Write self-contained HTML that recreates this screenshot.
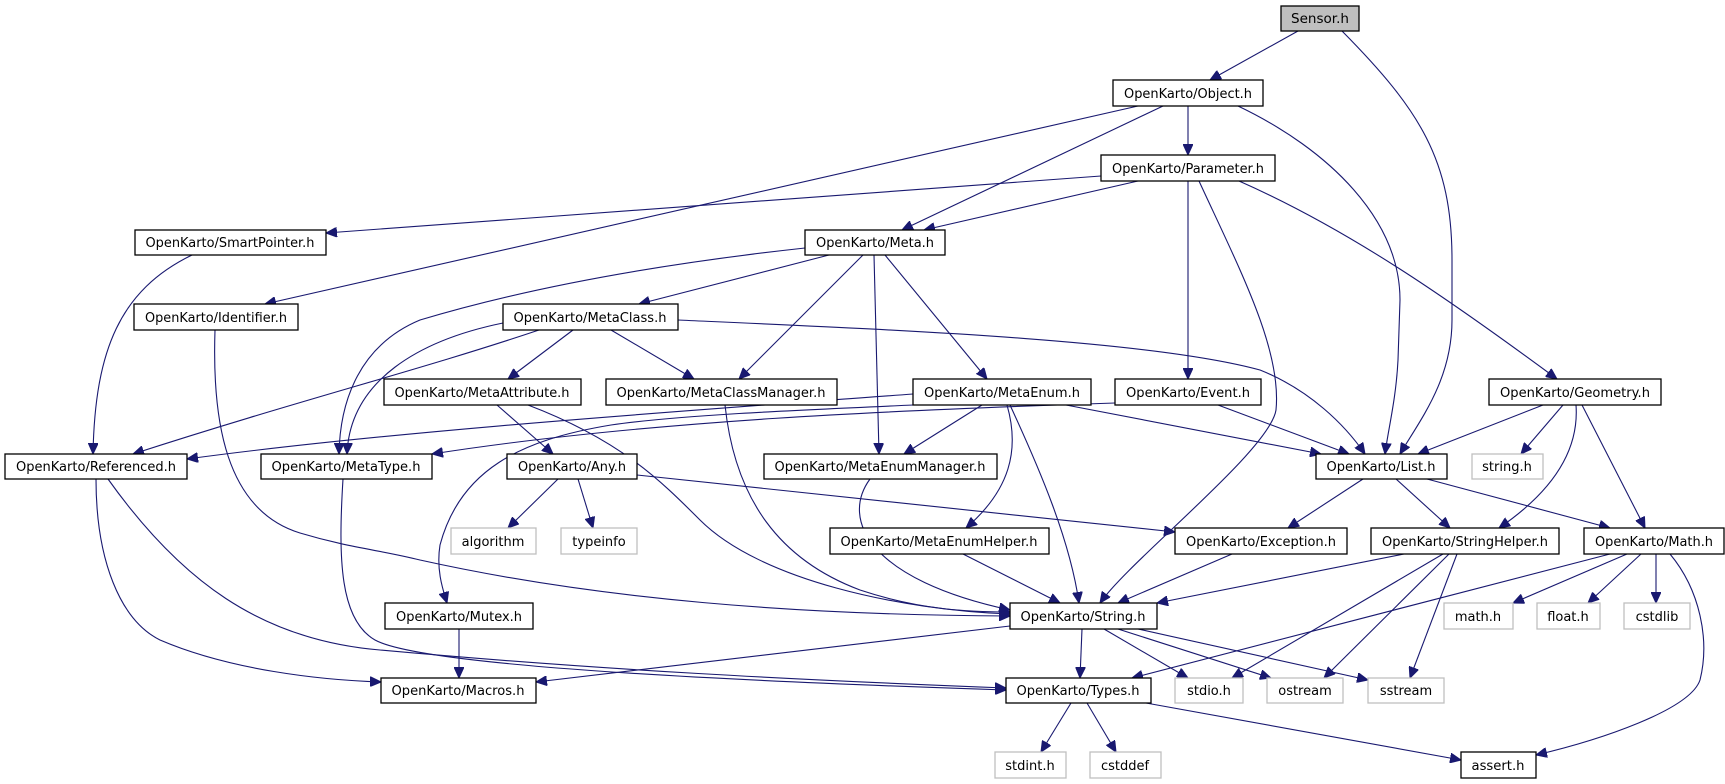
<!DOCTYPE html>
<html><head><meta charset="utf-8"><style>
html,body{margin:0;padding:0;background:#fff}
svg{display:block}
text{font-family:"DejaVu Sans","Liberation Sans",sans-serif;font-size:13px;fill:#000}
.n rect{fill:#fff;stroke:#000;stroke-width:1.3}
.g rect{fill:#fff;stroke:#bfbfbf;stroke-width:1.3}
.e path{fill:none;stroke:#191970;stroke-width:1.1}
</style></head><body>
<svg width="1725" height="784" viewBox="0 0 1725 784" xmlns="http://www.w3.org/2000/svg">
<defs><marker id="a" markerWidth="12" markerHeight="10" refX="11" refY="5" orient="auto" markerUnits="userSpaceOnUse"><path d="M0,0 L11,5 L0,10 Z" fill="#191970" stroke="#191970"/></marker></defs>
<g class="e" marker-end="url(#a)">
<path d="M1298,31 L1210,80" marker-end="url(#a)"/>
<path d="M1342,31 C1420,110 1452,160 1452,260 L1452,320 C1452,380 1420,420 1400,454" marker-end="url(#a)"/>
<path d="M1138,106 L265,304" marker-end="url(#a)"/>
<path d="M1163,106 L902,230" marker-end="url(#a)"/>
<path d="M1188,106 L1188,155" marker-end="url(#a)"/>
<path d="M1238,106 C1330,150 1400,220 1400,300 L1398,360 C1396,400 1388,430 1385,454" marker-end="url(#a)"/>
<path d="M1101,176 L326,233" marker-end="url(#a)"/>
<path d="M1138,181 L924,230" marker-end="url(#a)"/>
<path d="M1188,181 L1188,379" marker-end="url(#a)"/>
<path d="M1199,181 C1240,270 1282,350 1276,410 C1270,450 1130,560 1100,603" marker-end="url(#a)"/>
<path d="M1239,181 C1350,230 1450,300 1557,379" marker-end="url(#a)"/>
<path d="M829,255 L639,304" marker-end="url(#a)"/>
<path d="M805,248 C650,265 520,290 420,320 C360,345 340,400 339,454" marker-end="url(#a)"/>
<path d="M863,255 L739,379" marker-end="url(#a)"/>
<path d="M874,255 L879,454" marker-end="url(#a)"/>
<path d="M885,255 L987,379" marker-end="url(#a)"/>
<path d="M215,330 C212,420 225,510 300,533 C350,548 380,550 420,560 C600,600 800,615 1010,616" marker-end="url(#a)"/>
<path d="M192,255 C120,290 95,350 93,454" marker-end="url(#a)"/>
<path d="M503,323 C420,340 350,380 347,454" marker-end="url(#a)"/>
<path d="M539,330 C420,370 300,400 133,454" marker-end="url(#a)"/>
<path d="M573,330 L508,379" marker-end="url(#a)"/>
<path d="M611,330 L694,379" marker-end="url(#a)"/>
<path d="M678,320 C900,330 1150,340 1260,370 C1310,390 1345,425 1365,454" marker-end="url(#a)"/>
<path d="M497,405 L553,454" marker-end="url(#a)"/>
<path d="M528,405 C620,440 660,480 700,520 C760,580 900,610 1010,614" marker-end="url(#a)"/>
<path d="M725,405 C735,500 780,560 860,590 C920,610 970,612 1010,612" marker-end="url(#a)"/>
<path d="M913,394 C700,410 400,430 187,459" marker-end="url(#a)"/>
<path d="M1115,403 C900,410 650,420 432,454" marker-end="url(#a)"/>
<path d="M913,405 C800,410 680,415 611,425 C520,440 460,470 440,545 C436,570 443,590 447,603" marker-end="url(#a)"/>
<path d="M982,405 L904,454" marker-end="url(#a)"/>
<path d="M1007,405 C1020,450 1010,490 966,528" marker-end="url(#a)"/>
<path d="M1010,405 C1040,470 1070,540 1079,603" marker-end="url(#a)"/>
<path d="M1066,405 L1321,454" marker-end="url(#a)"/>
<path d="M1218,405 L1349,454" marker-end="url(#a)"/>
<path d="M1543,405 L1418,454" marker-end="url(#a)"/>
<path d="M1563,405 L1521,454" marker-end="url(#a)"/>
<path d="M1576,405 C1580,460 1540,500 1499,528" marker-end="url(#a)"/>
<path d="M1582,405 L1645,528" marker-end="url(#a)"/>
<path d="M343,479 C338,560 340,620 375,640 C420,665 700,680 1006,690" marker-end="url(#a)"/>
<path d="M96,479 C96,560 120,620 160,640 C230,670 320,680 381,682" marker-end="url(#a)"/>
<path d="M108,479 C180,580 260,640 380,650 C600,670 800,680 1006,688" marker-end="url(#a)"/>
<path d="M558,479 L508,528" marker-end="url(#a)"/>
<path d="M578,479 L593,528" marker-end="url(#a)"/>
<path d="M637,475 L1175,532" marker-end="url(#a)"/>
<path d="M459,629 L459,678" marker-end="url(#a)"/>
<path d="M870,479 C840,520 870,580 1010,610" marker-end="url(#a)"/>
<path d="M963,554 L1060,603" marker-end="url(#a)"/>
<path d="M1232,554 L1118,603" marker-end="url(#a)"/>
<path d="M1363,479 L1288,528" marker-end="url(#a)"/>
<path d="M1396,479 L1450,528" marker-end="url(#a)"/>
<path d="M1427,479 L1610,528" marker-end="url(#a)"/>
<path d="M1404,554 L1157,603" marker-end="url(#a)"/>
<path d="M1443,554 L1232,678" marker-end="url(#a)"/>
<path d="M1449,554 L1324,678" marker-end="url(#a)"/>
<path d="M1457,554 L1410,678" marker-end="url(#a)"/>
<path d="M1610,554 L1132,678" marker-end="url(#a)"/>
<path d="M1627,554 L1513,603" marker-end="url(#a)"/>
<path d="M1641,554 L1588,603" marker-end="url(#a)"/>
<path d="M1656,554 L1656,603" marker-end="url(#a)"/>
<path d="M1670,554 C1700,590 1710,640 1700,680 C1690,710 1600,740 1536,755" marker-end="url(#a)"/>
<path d="M1082,629 L1080,678" marker-end="url(#a)"/>
<path d="M1104,629 L1188,678" marker-end="url(#a)"/>
<path d="M1118,629 L1271,678" marker-end="url(#a)"/>
<path d="M1138,629 L1368,680" marker-end="url(#a)"/>
<path d="M1010,626 L536,682" marker-end="url(#a)"/>
<path d="M1071,703 L1041,752" marker-end="url(#a)"/>
<path d="M1087,703 L1116,752" marker-end="url(#a)"/>
<path d="M1146,703 L1461,760" marker-end="url(#a)"/>
</g>
<g class="n">
<rect x="1281" y="6" width="78" height="25" style="fill:#bfbfbf"/><text x="1320" y="23" text-anchor="middle" textLength="58" lengthAdjust="spacingAndGlyphs">Sensor.h</text>
<rect x="1113" y="80" width="150" height="26"/><text x="1188" y="98" text-anchor="middle" textLength="128" lengthAdjust="spacingAndGlyphs">OpenKarto/Object.h</text>
<rect x="1101" y="155" width="174" height="26"/><text x="1188" y="173" text-anchor="middle" textLength="152" lengthAdjust="spacingAndGlyphs">OpenKarto/Parameter.h</text>
<rect x="135" y="230" width="191" height="25"/><text x="230" y="247" text-anchor="middle" textLength="169" lengthAdjust="spacingAndGlyphs">OpenKarto/SmartPointer.h</text>
<rect x="805" y="230" width="140" height="25"/><text x="875" y="247" text-anchor="middle" textLength="118" lengthAdjust="spacingAndGlyphs">OpenKarto/Meta.h</text>
<rect x="134" y="304" width="164" height="26"/><text x="216" y="322" text-anchor="middle" textLength="142" lengthAdjust="spacingAndGlyphs">OpenKarto/Identifier.h</text>
<rect x="503" y="304" width="175" height="26"/><text x="590" y="322" text-anchor="middle" textLength="153" lengthAdjust="spacingAndGlyphs">OpenKarto/MetaClass.h</text>
<rect x="384" y="379" width="197" height="26"/><text x="482" y="397" text-anchor="middle" textLength="175" lengthAdjust="spacingAndGlyphs">OpenKarto/MetaAttribute.h</text>
<rect x="606" y="379" width="231" height="26"/><text x="721" y="397" text-anchor="middle" textLength="209" lengthAdjust="spacingAndGlyphs">OpenKarto/MetaClassManager.h</text>
<rect x="913" y="379" width="178" height="26"/><text x="1002" y="397" text-anchor="middle" textLength="156" lengthAdjust="spacingAndGlyphs">OpenKarto/MetaEnum.h</text>
<rect x="1115" y="379" width="146" height="26"/><text x="1188" y="397" text-anchor="middle" textLength="124" lengthAdjust="spacingAndGlyphs">OpenKarto/Event.h</text>
<rect x="1489" y="379" width="172" height="26"/><text x="1575" y="397" text-anchor="middle" textLength="150" lengthAdjust="spacingAndGlyphs">OpenKarto/Geometry.h</text>
<rect x="5" y="454" width="182" height="25"/><text x="96" y="471" text-anchor="middle" textLength="160" lengthAdjust="spacingAndGlyphs">OpenKarto/Referenced.h</text>
<rect x="261" y="454" width="171" height="25"/><text x="346" y="471" text-anchor="middle" textLength="149" lengthAdjust="spacingAndGlyphs">OpenKarto/MetaType.h</text>
<rect x="507" y="454" width="130" height="25"/><text x="572" y="471" text-anchor="middle" textLength="108" lengthAdjust="spacingAndGlyphs">OpenKarto/Any.h</text>
<rect x="764" y="454" width="233" height="25"/><text x="880" y="471" text-anchor="middle" textLength="211" lengthAdjust="spacingAndGlyphs">OpenKarto/MetaEnumManager.h</text>
<rect x="1316" y="454" width="131" height="25"/><text x="1381" y="471" text-anchor="middle" textLength="109" lengthAdjust="spacingAndGlyphs">OpenKarto/List.h</text>
<rect x="830" y="528" width="219" height="26"/><text x="939" y="546" text-anchor="middle" textLength="197" lengthAdjust="spacingAndGlyphs">OpenKarto/MetaEnumHelper.h</text>
<rect x="1175" y="528" width="172" height="26"/><text x="1261" y="546" text-anchor="middle" textLength="150" lengthAdjust="spacingAndGlyphs">OpenKarto/Exception.h</text>
<rect x="1371" y="528" width="188" height="26"/><text x="1465" y="546" text-anchor="middle" textLength="166" lengthAdjust="spacingAndGlyphs">OpenKarto/StringHelper.h</text>
<rect x="1584" y="528" width="140" height="26"/><text x="1654" y="546" text-anchor="middle" textLength="118" lengthAdjust="spacingAndGlyphs">OpenKarto/Math.h</text>
<rect x="385" y="603" width="148" height="26"/><text x="459" y="621" text-anchor="middle" textLength="126" lengthAdjust="spacingAndGlyphs">OpenKarto/Mutex.h</text>
<rect x="1010" y="603" width="147" height="26"/><text x="1083" y="621" text-anchor="middle" textLength="125" lengthAdjust="spacingAndGlyphs">OpenKarto/String.h</text>
<rect x="381" y="678" width="155" height="25"/><text x="458" y="695" text-anchor="middle" textLength="133" lengthAdjust="spacingAndGlyphs">OpenKarto/Macros.h</text>
<rect x="1006" y="678" width="145" height="25"/><text x="1078" y="695" text-anchor="middle" textLength="123" lengthAdjust="spacingAndGlyphs">OpenKarto/Types.h</text>
<rect x="1461" y="752" width="75" height="26"/><text x="1498" y="770" text-anchor="middle" textLength="53" lengthAdjust="spacingAndGlyphs">assert.h</text>
</g>
<g class="g">
<rect x="451" y="528" width="85" height="26"/><text x="493" y="546" text-anchor="middle">algorithm</text>
<rect x="561" y="528" width="76" height="26"/><text x="599" y="546" text-anchor="middle">typeinfo</text>
<rect x="1472" y="454" width="71" height="25"/><text x="1507" y="471" text-anchor="middle">string.h</text>
<rect x="1444" y="603" width="69" height="26"/><text x="1478" y="621" text-anchor="middle">math.h</text>
<rect x="1537" y="603" width="63" height="26"/><text x="1568" y="621" text-anchor="middle">float.h</text>
<rect x="1624" y="603" width="66" height="26"/><text x="1657" y="621" text-anchor="middle">cstdlib</text>
<rect x="1175" y="678" width="68" height="25"/><text x="1209" y="695" text-anchor="middle">stdio.h</text>
<rect x="1267" y="678" width="76" height="25"/><text x="1305" y="695" text-anchor="middle">ostream</text>
<rect x="1368" y="678" width="76" height="25"/><text x="1406" y="695" text-anchor="middle">sstream</text>
<rect x="995" y="752" width="71" height="26"/><text x="1030" y="770" text-anchor="middle">stdint.h</text>
<rect x="1090" y="752" width="71" height="26"/><text x="1125" y="770" text-anchor="middle">cstddef</text>
</g>
</svg>
</body></html>
